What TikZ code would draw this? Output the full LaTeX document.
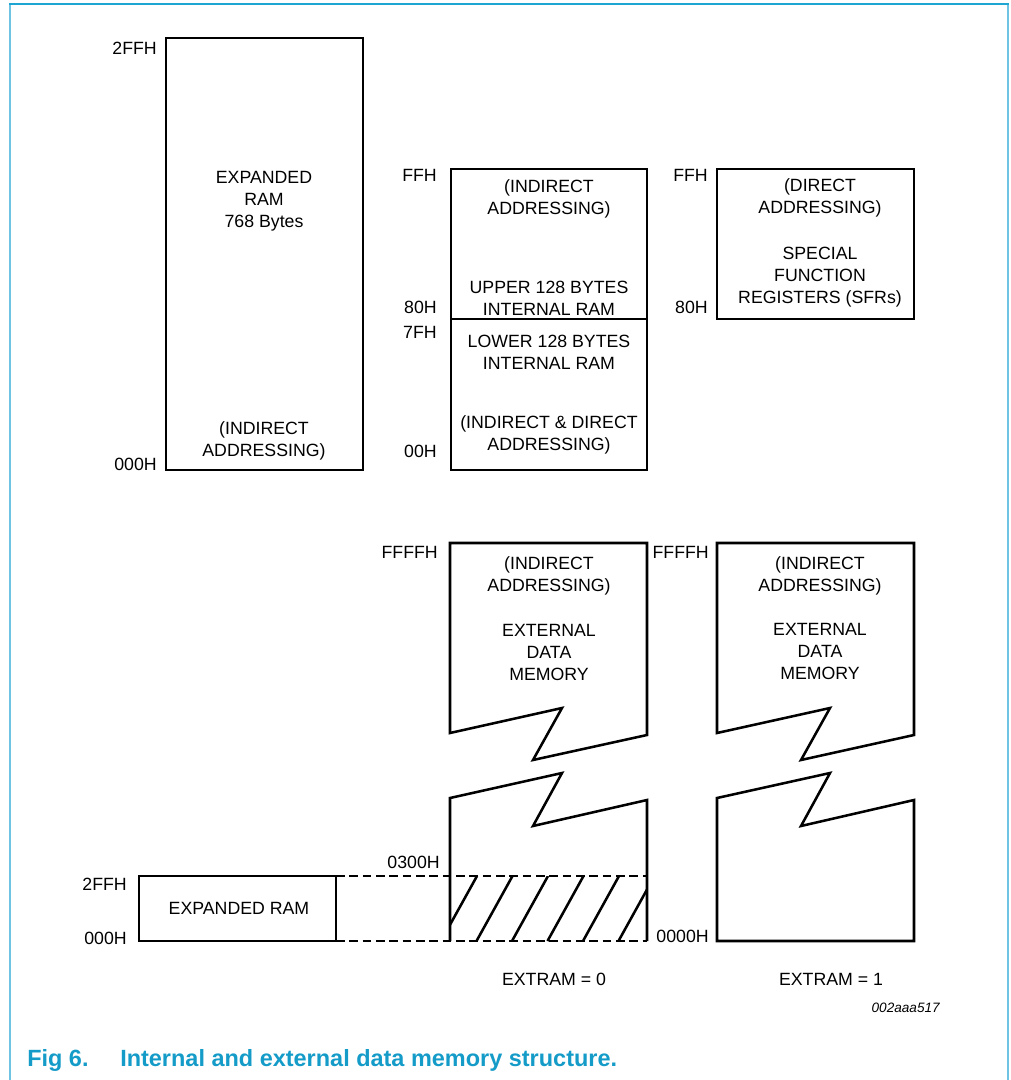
\documentclass[tikz,border=0pt]{standalone}
\usepackage{fontspec}
\setmainfont{Liberation Sans}
\definecolor{framecol}{RGB}{110,196,226}
\definecolor{frametop}{RGB}{30,165,210}
\definecolor{capblue}{RGB}{20,155,200}
\begin{document}
\begin{tikzpicture}[x=0.75pt,y=-0.75pt,
  box/.style={line width=1.9pt, line join=miter},
  lbl/.style={font=\fontsize{13.3pt}{16.5pt}\selectfont, inner sep=0pt, anchor=east},
  txt/.style={font=\fontsize{13.3pt}{16.5pt}\selectfont, align=center, inner sep=0pt},
  dashln/.style={line width=1.9pt, dash pattern=on 6.5pt off 3.5pt},
  hatch/.style={line width=1.9pt}]
\useasboundingbox (0,0) rectangle (1010,1080);
% frame
\draw[framecol, line width=1.5pt] (10,1080) -- (10,4);
\draw[framecol, line width=1.5pt] (1008,4) -- (1008,1080);
\draw[frametop, line width=1.8pt] (9.4,4) -- (1008.6,4);

% Box A: expanded RAM
\draw[box] (166,38) rectangle (363,470);
\node[lbl] (a2ff) at (157,48) {2FFH};
\node[lbl] (a000) at (157,464) {000H};
\node[txt] (a1) at (264,201) {EXPANDED\\RAM\\768 Bytes};
\node[txt] (a2) at (264,441) {(INDIRECT\\ADDRESSING)};

% Box B: internal RAM
\draw[box] (451,169) rectangle (647,470);
\draw[box] (451,319) -- (647,319);
\node[lbl] (bff) at (437,175) {FFH};
\node[lbl] (b80) at (437,307) {80H};
\node[lbl] (b7f) at (437,332) {7FH};
\node[lbl] (b00) at (437,451) {00H};
\node[txt] (b1) at (549,199) {(INDIRECT\\ADDRESSING)};
\node[txt] (b2) at (549,298) {UPPER 128 BYTES\\INTERNAL RAM};
\node[txt] (b3) at (549,352) {LOWER 128 BYTES\\INTERNAL RAM};
\node[txt] (b4) at (549,435) {(INDIRECT \& DIRECT\\ADDRESSING)};

% Box C: SFRs
\draw[box] (717,169) rectangle (914,319);
\node[lbl] (cff) at (708,175) {FFH};
\node[lbl] (c80) at (708,307) {80H};
\node[txt] (c1) at (820,198) {(DIRECT\\ADDRESSING)};
\node[txt] (c2) at (820,277) {SPECIAL\\FUNCTION\\REGISTERS (SFRs)};

% Box D: external data memory, EXTRAM = 0
\draw[box] (450,543) -- (647,543) -- (647,735) -- (533,760) -- (562,708) -- (450,733) -- cycle;
\draw[box] (450,941) -- (450,798) -- (562,773) -- (533,826) -- (647,800) -- (647,941);
\node[lbl] (dffff) at (438,552) {FFFFH};
\node[lbl] (d0300) at (440,862) {0300H};
\node[txt] (d1) at (549,576) {(INDIRECT\\ADDRESSING)};
\node[txt] (d2) at (549,652) {EXTERNAL\\DATA\\MEMORY};
\node[txt] (d3) at (554,979) {EXTRAM = 0};
\begin{scope}
  \clip (450,876) rectangle (647,941);
  \foreach \k in {0,...,5} \draw[hatch] (441+35.5*\k,941) -- ++(36,-65);
\end{scope}

% Box E: external data memory, EXTRAM = 1
\draw[box] (717,543) -- (914,543) -- (914,735) -- (801,760) -- (830,708) -- (717,733) -- cycle;
\draw[box] (717,798) -- (830,773) -- (801,826) -- (914,800) -- (914,941) -- (717,941) -- cycle;
\node[lbl] (effff) at (709,552) {FFFFH};
\node[lbl] (e0000) at (709,936) {0000H};
\node[txt] (e1) at (820,576) {(INDIRECT\\ADDRESSING)};
\node[txt] (e2) at (820,651) {EXTERNAL\\DATA\\MEMORY};
\node[txt] (e3) at (831,979) {EXTRAM = 1};

% small expanded RAM box
\draw[box] (139,876) rectangle (336,941);
\coordinate (sTR) at (336,876);
\coordinate (sBR) at (336,941);
\coordinate (dTR) at (647,876);
\coordinate (dBR) at (647,941);
\draw[dashln] (sTR) -- (dTR);
\draw[dashln] (sBR) -- (dBR);
\node[lbl] (s2ff) at (127,884) {2FFH};
\node[lbl] (s000) at (127,938) {000H};
\node[txt] (s1) at (239,908) {EXPANDED RAM};

% id and caption
\node[inner sep=0pt, anchor=east, font=\itshape\fontsize{10.2pt}{12pt}\selectfont] (fid) at (940,1008) {002aaa517};
\node[inner sep=0pt, anchor=base west, text=capblue, font=\bfseries\fontsize{17.6pt}{20pt}\selectfont] (cap1) at (27,1066) {Fig 6.};
\node[inner sep=0pt, anchor=base west, text=capblue, font=\bfseries\fontsize{17.6pt}{20pt}\selectfont] (cap2) at (120,1066) {Internal and external data memory structure.};
\end{tikzpicture}
\end{document}
